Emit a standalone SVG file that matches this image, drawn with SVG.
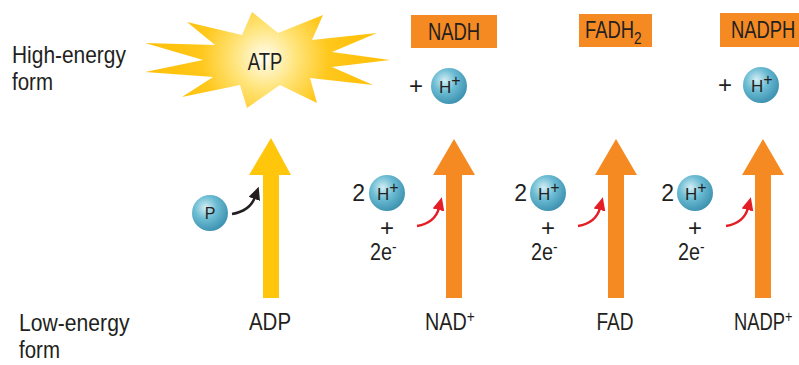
<svg xmlns="http://www.w3.org/2000/svg" width="799" height="365" viewBox="0 0 799 365">
<style>
  text { font-family: "Liberation Sans", Arial, sans-serif; fill: #231f20; }
  .lbl { font-size: 23px; }
  .box { fill: #f58a22; }
  .orange { fill: #f58a22; }
  .yellow { fill: #ffc60b; }
  .ball { fill: url(#ballGrad); }
  .hs { font-size: 17px; }
  .sup { font-size: 16px; }
  .plus { font-size: 24px; }
</style>
<defs>
  <radialGradient id="ballGrad" cx="0.38" cy="0.35" r="0.7">
    <stop offset="0" stop-color="#d4eef5"/>
    <stop offset="0.45" stop-color="#6cbcd3"/>
    <stop offset="1" stop-color="#3a8fae"/>
  </radialGradient>
  <radialGradient id="burstGrad" gradientUnits="userSpaceOnUse" cx="265" cy="58" r="90">
    <stop offset="0" stop-color="#fffdf0"/>
    <stop offset="0.35" stop-color="#ffe47a"/>
    <stop offset="0.7" stop-color="#ffc81e"/>
    <stop offset="1" stop-color="#ffc20e"/>
  </radialGradient>
  <marker id="headBlack" markerUnits="userSpaceOnUse" markerWidth="14" markerHeight="12" refX="2" refY="6" orient="auto">
    <path d="M0,0 L13,6 L0,12 z" fill="#231f20"/>
  </marker>
  <marker id="headRed" markerUnits="userSpaceOnUse" markerWidth="14" markerHeight="12" refX="2" refY="6" orient="auto">
    <path d="M0,0 L13,6 L0,12 z" fill="#e31e26"/>
  </marker>
</defs>
<rect width="799" height="365" fill="#ffffff"/>

<g id="label-high">
  <text class="lbl" transform="translate(12,63) scale(0.91,1)">High-energy</text>
  <text class="lbl" transform="translate(12,90) scale(0.89,1)">form</text>
</g>
<g id="label-low">
  <text class="lbl" transform="translate(19,331) scale(0.92,1)">Low-energy</text>
  <text class="lbl" transform="translate(19,358) scale(0.89,1)">form</text>
</g>

<g id="atp">
  <polygon fill="url(#burstGrad)" points="252,12 278,33 323,15 312,40 377,33 332,52 390,60 332,67 373,85 310,78 317,103 280,85 247,108 240,85 182,97 213,77 145,72 203,60 145,43 215,45 187,22 242,35"/>
  <text class="lbl" text-anchor="middle" transform="translate(265,70) scale(0.8,1)">ATP</text>
</g>

<g id="adp">
  <polygon class="yellow" points="271,138 291,175 279,175 279,298 263,298 263,175 249,175"/>
  <text class="lbl" text-anchor="middle" transform="translate(270,330) scale(0.89,1)">ADP</text>
</g>

<g id="phosphate">
  <circle class="ball" cx="210" cy="213" r="18"/>
  <text x="210" y="219" font-size="16" text-anchor="middle">P</text>
</g>

<g id="nadh">
  <rect class="box" x="411" y="15" width="86" height="33"/>
  <text class="lbl" text-anchor="middle" transform="translate(454,40) scale(0.8,1)">NADH</text>
  <text class="plus" x="416" y="94" text-anchor="middle">+</text>
  <circle class="ball" cx="449" cy="86" r="18"/>
  <text class="hs" x="439" y="93">H<tspan class="sup" dy="-7">+</tspan></text>
</g>

<g id="nad">
  <polygon class="orange" points="454,139 475,175 462,175 462,298 446,298 446,175 433,175"/>
  <text class="lbl" transform="translate(425,330) scale(0.86,1)">NAD<tspan class="sup" dy="-8">+</tspan></text>
  <text class="lbl" x="365" y="201" text-anchor="end">2</text>
  <circle class="ball" cx="387" cy="193" r="18"/>
  <text class="hs" x="377" y="200">H<tspan class="sup" dy="-7">+</tspan></text>
  <text class="plus" x="387" y="236" text-anchor="middle">+</text>
  <text class="lbl" transform="translate(370,260) scale(0.86,1)">2e<tspan class="sup" dy="-8">-</tspan></text>
</g>

<g id="fadh2">
  <rect class="box" x="579" y="14" width="73" height="33"/>
  <text class="lbl" transform="translate(585,38) scale(0.8,1)">FADH<tspan font-size="17" dy="6">2</tspan></text>
</g>

<g id="fad">
  <polygon class="orange" points="616,139 637,175 624,175 624,298 608,298 608,175 595,175"/>
  <text class="lbl" text-anchor="middle" transform="translate(615,330) scale(0.83,1)">FAD</text>
  <text class="lbl" x="527" y="201" text-anchor="end">2</text>
  <circle class="ball" cx="548" cy="193" r="18"/>
  <text class="hs" x="538" y="200">H<tspan class="sup" dy="-7">+</tspan></text>
  <text class="plus" x="548" y="236" text-anchor="middle">+</text>
  <text class="lbl" transform="translate(531,260) scale(0.86,1)">2e<tspan class="sup" dy="-8">-</tspan></text>
</g>

<g id="nadph">
  <rect class="box" x="720" y="13" width="79" height="34"/>
  <text class="lbl" transform="translate(731,38) scale(0.8,1)">NADPH</text>
  <text class="plus" x="725" y="93" text-anchor="middle">+</text>
  <circle class="ball" cx="761" cy="85" r="18"/>
  <text class="hs" x="751" y="92">H<tspan class="sup" dy="-7">+</tspan></text>
</g>

<g id="nadp">
  <polygon class="orange" points="763,139 784,175 771,175 771,298 755,298 755,175 742,175"/>
  <text class="lbl" transform="translate(734,330) scale(0.8,1)">NADP<tspan class="sup" dy="-8">+</tspan></text>
  <text class="lbl" x="674" y="201" text-anchor="end">2</text>
  <circle class="ball" cx="695" cy="193" r="18"/>
  <text class="hs" x="685" y="200">H<tspan class="sup" dy="-7">+</tspan></text>
  <text class="plus" x="695" y="236" text-anchor="middle">+</text>
  <text class="lbl" transform="translate(678,260) scale(0.86,1)">2e<tspan class="sup" dy="-8">-</tspan></text>
</g>

<g id="connectors" fill="none" stroke-width="2.5">
  <path d="M232,214 Q250,211 255,197" stroke="#231f20" marker-end="url(#headBlack)"/>
  <path d="M417,226 Q435,223 439,208" stroke="#e31e26" marker-end="url(#headRed)"/>
  <path d="M578,226 Q596,223 600,208" stroke="#e31e26" marker-end="url(#headRed)"/>
  <path d="M726,226 Q744,223 748,208" stroke="#e31e26" marker-end="url(#headRed)"/>
</g>
</svg>
